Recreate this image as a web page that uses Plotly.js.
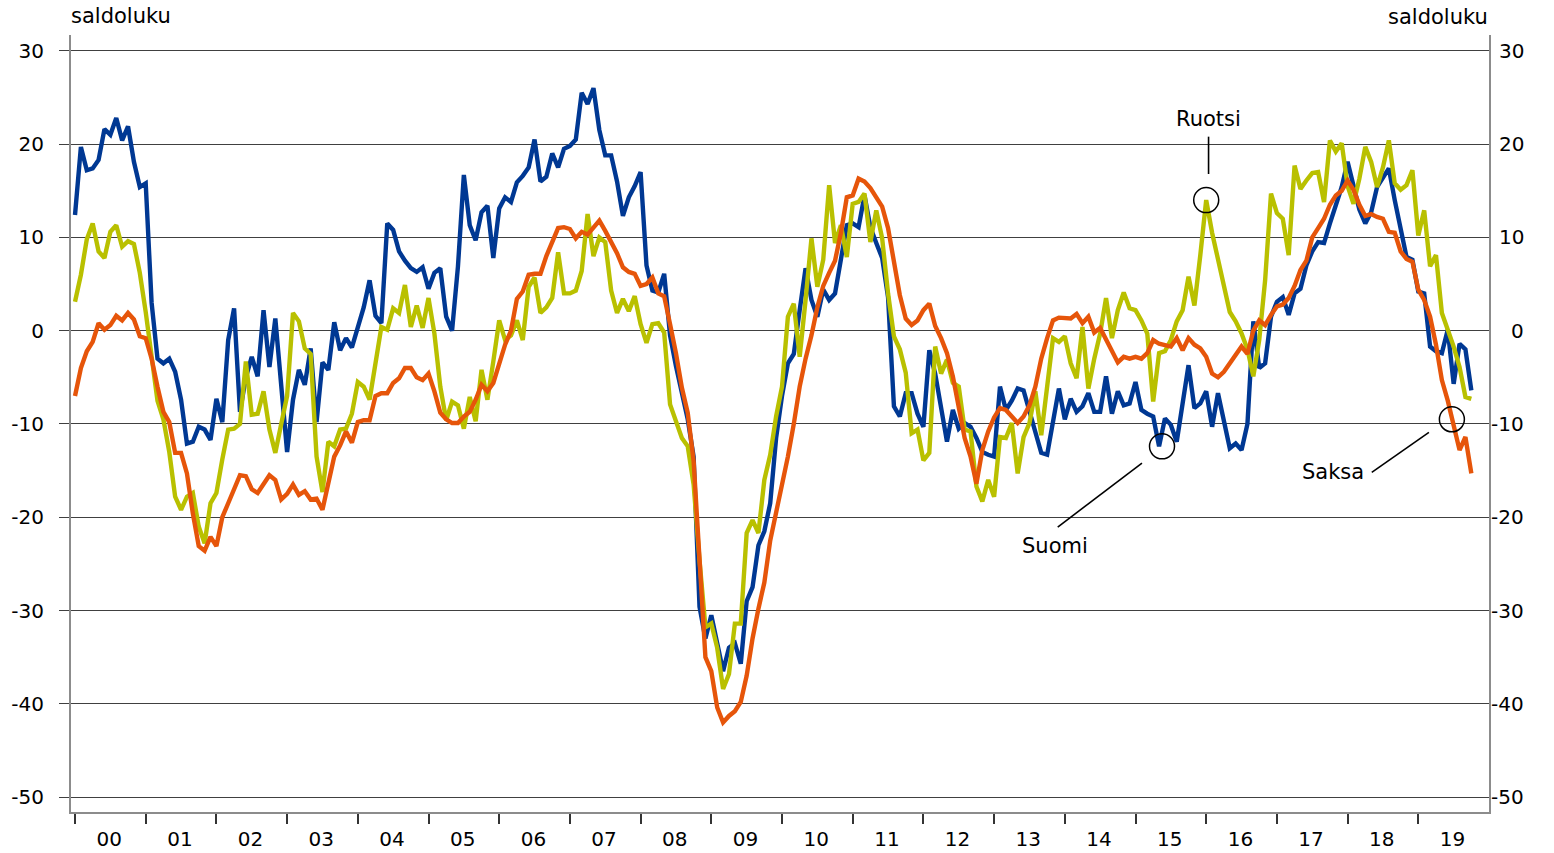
<!DOCTYPE html>
<html>
<head>
<meta charset="utf-8">
<script src="https://cdn.plot.ly/plotly-3.0.1.min.js"></script>
<style>
  html, body { margin: 0; padding: 0; background: #fff; }
  #chart { width: 1554px; height: 853px; }
</style>
</head>
<body>
<div id="chart"></div>
<script>
// Monthly balance figures (saldoluku), Jan 2000 – Oct 2019
const yearLabels = ["00","01","02","03","04","05","06","07","08","09","10","11","12","13","14","15","16","17","18","19"];
const yTicks = [-50, -40, -30, -20, -10, 0, 10, 20, 30];
const yTickText = ["-50", "-40", "-30", "-20", "-10", "0", "10", "20", "30"];
const axisTitle = "saldoluku";
const seriesNames = ["Suomi", "Ruotsi", "Saksa"];

const suomi = [
  12.4, 19.7, 17.2, 17.4, 18.3, 21.6, 21.0, 22.8, 20.4, 21.9, 18.1, 15.4,
  15.8, 3.0, -3.0, -3.5, -3.0, -4.4, -7.4, -12.1, -11.9, -10.3, -10.6, -11.7,
  -7.3, -9.8, -1.0, 2.4, -8.7, -5.0, -2.8, -4.9, 2.2, -3.9, 1.3, -6.0,
  -13.0, -7.4, -4.2, -5.8, -1.9, -9.8, -3.4, -4.2, 0.9, -2.1, -0.8, -1.8,
  0.3, 2.5, 5.4, 1.6, 0.8, 11.5, 10.8, 8.5, 7.5, 6.7, 6.3, 6.8,
  4.5, 6.2, 6.7, 1.5, 0.0, 6.9, 16.7, 11.3, 9.7, 12.7, 13.4, 7.8,
  13.1, 14.3, 13.8, 15.9, 16.6, 17.5, 20.5, 16.0, 16.5, 19.0, 17.5, 19.5,
  19.8, 20.5, 25.5, 24.3, 26.0, 21.5, 18.8, 18.8, 16.0, 12.3, 14.3, 15.5,
  17.0, 7.0, 4.3, 4.1, 6.1, -0.5, -3.8, -6.5, -9.5, -13.5, -29.6, -33.0,
  -30.5, -33.5, -36.5, -34.0, -33.5, -35.7, -29.0, -27.5, -23.0, -21.5, -18.5, -11.5,
  -7.0, -3.5, -2.5, 2.2, 6.7, 3.3, 1.5, 4.4, 3.3, 4.0, 7.9, 11.3,
  11.5, 11.1, 14.5, 11.1, 9.4, 7.8, 3.6, -8.1, -9.2, -6.7, -6.7, -8.9,
  -10.3, -2.1, -4.6, -8.0, -11.9, -8.5, -10.5, -9.9, -10.3, -11.5, -13.0, -13.3,
  -13.5, -6.0, -8.5, -7.5, -6.2, -6.4, -8.5, -11.0, -13.1, -13.3, -9.5, -6.2,
  -9.5, -7.3, -8.7, -8.1, -6.7, -8.7, -8.7, -4.9, -8.9, -6.5, -8.0, -7.8,
  -5.5, -8.5, -8.9, -9.2, -12.4, -9.4, -10.1, -11.9, -7.8, -3.7, -8.3, -7.8,
  -6.5, -10.3, -6.7, -9.4, -12.6, -12.1, -12.8, -10.0, 1.0, -4.0, -3.5, 1.5,
  3.1, 3.6, 1.7, 4.0, 4.5, 7.0, 8.5, 9.5, 9.4, 11.5, 13.3, 15.4,
  18.1, 15.5, 13.0, 11.5, 12.7, 15.4, 16.5, 17.4, 14.0, 10.8, 7.9, 7.6,
  4.2, 4.0, -1.7, -2.2, -2.4, 0.1, -5.7, -1.4, -2.0, -6.4
];

const ruotsi = [
  3.1, 6.0, 9.8, 11.5, 8.5, 7.8, 10.6, 11.3, 9.0, 9.6, 9.3, 6.2,
  2.0, -2.5, -7.5, -9.5, -13.0, -17.8, -19.2, -17.8, -17.4, -21.0, -22.8, -18.5,
  -17.4, -13.8, -10.6, -10.5, -10.0, -3.3, -9.0, -8.9, -6.5, -10.6, -13.1, -10.0,
  -7.0, 1.9, 1.0, -1.9, -2.5, -13.5, -17.3, -11.9, -12.4, -10.6, -10.5, -8.9,
  -5.5, -6.0, -7.4, -3.5, 0.4, 0.1, 2.4, 1.9, 4.9, 0.4, 2.7, 0.3,
  3.5, -0.3, -6.0, -9.6, -7.6, -8.0, -10.5, -7.1, -9.7, -4.2, -7.4, -3.3,
  1.1, -1.0, -0.5, 1.1, -1.0, 4.7, 5.7, 1.9, 2.5, 3.5, 8.4, 4.0,
  4.0, 4.3, 6.4, 12.5, 8.0, 10.0, 9.5, 4.3, 1.9, 3.4, 2.1, 3.7,
  0.7, -1.3, 0.7, 0.8, -0.2, -7.9, -9.7, -11.5, -12.4, -16.5, -24.6, -31.8,
  -31.4, -34.0, -38.4, -36.8, -31.4, -31.4, -21.7, -20.3, -21.7, -16.0, -13.3, -9.2,
  -6.0, 1.5, 2.9, -2.8, 3.3, 9.9, 4.7, 7.6, 15.6, 9.4, 11.3, 7.9,
  13.6, 13.8, 14.7, 9.5, 12.9, 9.9, 4.0, -0.6, -2.0, -4.5, -11.0, -10.6,
  -13.9, -13.1, -1.7, -4.6, -3.1, -5.6, -6.0, -10.6, -10.8, -16.7, -18.3, -16.0,
  -17.8, -11.4, -11.5, -9.9, -15.3, -11.4, -9.9, -6.5, -11.2, -5.6, -0.8, -1.2,
  -0.6, -3.5, -5.1, 0.4, -6.2, -3.0, -0.3, 3.5, -0.8, 2.2, 4.1, 2.4,
  2.2, 1.1, -0.3, -7.6, -2.4, -2.2, -1.0, 1.0, 2.2, 5.8, 2.7, 8.1,
  14.0, 10.5, 7.5, 4.5, 2.0, 1.0, -0.3, -2.0, -4.9, -1.0, 5.4, 14.7,
  12.6, 12.0, 8.1, 17.7, 15.2, 16.1, 16.9, 17.0, 13.8, 20.4, 19.2, 20.1,
  15.5, 13.6, 16.3, 19.7, 18.1, 15.4, 17.5, 20.4, 15.8, 15.1, 15.6, 17.2,
  10.2, 12.9, 6.9, 8.1, 1.9, 0.1, -1.7, -3.9, -7.1, -7.3
];

const saksa = [
  -7.0, -4.0, -2.2, -1.2, 0.8, 0.1, 0.6, 1.6, 1.1, 1.9, 1.2, -0.6,
  -0.8, -3.0, -6.0, -8.7, -9.8, -13.1, -13.1, -15.3, -19.6, -23.1, -23.6, -22.1,
  -23.1, -20.0, -18.5, -17.0, -15.5, -15.6, -17.0, -17.4, -16.5, -15.5, -16.0, -18.1,
  -17.5, -16.5, -17.6, -17.2, -18.1, -18.0, -19.2, -16.4, -13.5, -12.3, -10.8, -12.0,
  -9.8, -9.6, -9.6, -7.0, -6.7, -6.7, -5.6, -5.1, -4.0, -4.0, -5.0, -5.3,
  -4.6, -6.5, -8.8, -9.5, -9.9, -9.9, -9.2, -8.7, -7.4, -5.8, -6.5, -5.6,
  -3.5, -1.5, 0.0, 3.4, 4.2, 6.0, 6.1, 6.1, 8.0, 9.5, 11.0, 11.1,
  10.9, 9.9, 10.6, 10.3, 11.0, 11.8, 10.7, 9.5, 8.3, 6.8, 6.3, 6.1,
  4.8, 5.0, 5.7, 4.0, 3.7, 0.7, -2.4, -6.1, -8.8, -14.0, -25.0, -35.0,
  -36.5, -40.4, -42.0, -41.3, -40.8, -39.8, -37.0, -33.0, -29.8, -27.0, -22.5, -19.5,
  -17.0, -13.5, -10.0, -6.0, -3.0, -0.5, 2.5, 4.8, 6.2, 7.5, 10.5, 14.3,
  14.5, 16.3, 16.0, 15.3, 14.3, 13.3, 11.0, 7.5, 3.8, 1.3, 0.6, 1.1,
  2.2, 2.9, 0.5, -0.8, -2.4, -4.9, -8.5, -11.5, -13.5, -16.4, -12.8, -10.8,
  -9.3, -8.3, -8.5, -9.2, -9.9, -9.2, -8.0, -6.0, -3.0, -0.8, 1.1, 1.4,
  1.3, 1.3, 1.8, 0.8, 1.5, -0.2, 0.3, -0.9, -2.2, -3.4, -2.8, -3.0,
  -2.8, -3.0, -2.4, -1.0, -1.4, -1.5, -1.7, -0.8, -2.1, -0.8, -1.5, -1.9,
  -2.8, -4.6, -5.0, -4.4, -3.5, -2.6, -1.7, -2.5, 0.0, 1.1, 0.6, 1.7,
  2.6, 2.8, 3.5, 4.8, 6.5, 7.5, 10.0, 11.0, 12.0, 13.5, 14.5, 15.0,
  16.1, 15.1, 13.5, 12.3, 12.5, 12.2, 12.0, 10.6, 10.5, 8.5, 7.7, 7.4,
  4.4, 3.3, 1.5, -1.5, -5.3, -7.5, -10.0, -12.8, -11.4, -15.3
];

// month index: 0 = January 2000
const months = suomi.map((_, i) => i);
const yearStarts = yearLabels.map((_, i) => i * 12);
const labelPos = yearLabels.map((_, i) => i * 12 + 5.8);

const colors = { suomi: "#003893", ruotsi: "#B9C000", saksa: "#E6550A" };
const lineW = 4.4;

const traces = [
  { x: months, y: suomi, name: seriesNames[0], type: "scatter", mode: "lines",
    line: { color: colors.suomi, width: lineW } },
  { x: months, y: ruotsi, name: seriesNames[1], type: "scatter", mode: "lines",
    line: { color: colors.ruotsi, width: lineW } },
  { x: months, y: saksa, name: seriesNames[2], type: "scatter", mode: "lines",
    line: { color: colors.saksa, width: lineW } }
];

const txtFont = { family: "DejaVu Sans, sans-serif", size: 21, color: "#000" };
const tickFont = { family: "DejaVu Sans, sans-serif", size: 20, color: "#000" };

const annotations = [];
// right-hand tick labels (right aligned)
yTicks.forEach((v, i) => annotations.push({
  xref: "paper", x: 1, xanchor: "right", xshift: 37,
  yref: "y", y: v, yanchor: "middle",
  text: yTickText[i], showarrow: false, font: tickFont
}));
// axis unit titles
annotations.push({ xref: "paper", x: 0, xanchor: "left", xshift: -2,
  yref: "paper", y: 1, yanchor: "middle", yshift: 19,
  text: axisTitle, showarrow: false, font: txtFont });
annotations.push({ xref: "paper", x: 1, xanchor: "right", xshift: 1,
  yref: "paper", y: 1, yanchor: "middle", yshift: 18,
  text: axisTitle, showarrow: false, font: txtFont });
// series labels
annotations.push({ xref: "x", x: 192.4, yref: "y", y: 22.7, text: seriesNames[1],
  showarrow: false, font: txtFont });
annotations.push({ xref: "x", x: 166.4, yref: "y", y: -23.1, text: seriesNames[0],
  showarrow: false, font: txtFont });
annotations.push({ xref: "x", x: 213.6, yref: "y", y: -15.2, text: seriesNames[2],
  showarrow: false, font: txtFont });

const circ = (xa, ya) => ({
  type: "circle", xref: "x", yref: "y", xsizemode: "pixel", ysizemode: "pixel",
  xanchor: xa, yanchor: ya, x0: -12.5, x1: 12.5, y0: -12.5, y1: 12.5,
  line: { color: "#000", width: 1.5 }, fillcolor: "rgba(0,0,0,0)"
});
const seg = (x0, y0, x1, y1) => ({
  type: "line", xref: "x", yref: "y", x0, y0, x1, y1,
  line: { color: "#000", width: 1.6 }
});

const shapes = [
  circ(192, ruotsi[192]),
  circ(184.5, suomi[184]),
  circ(233.7, -9.5),
  seg(192.4, 20.8, 192.4, 16.8),
  seg(166.8, -21.05, 181.1, -14.2),
  seg(220.1, -15.2, 229.8, -10.9)
];

const layout = {
  width: 1554, height: 853,
  margin: { l: 71, r: 65, t: 35, b: 41, pad: 0 },
  paper_bgcolor: "#fff", plot_bgcolor: "#fff",
  showlegend: false,
  font: tickFont,
  xaxis: {
    range: [-0.68, 240],
    tickmode: "array", tickvals: labelPos, ticktext: yearLabels,
    ticks: "", showgrid: false, zeroline: false,
    showline: true, linecolor: "#8c8c8c", linewidth: 2,
    ticklabelstandoff: 8,
    tickfont: tickFont,
    minor: { tickmode: "array", tickvals: yearStarts, ticks: "outside",
      ticklen: 10, tickwidth: 2, tickcolor: "#333", showgrid: false }
  },
  yaxis: {
    range: [-51.6, 31.7],
    tickmode: "array", tickvals: yTicks, ticktext: yTickText,
    ticks: "outside", ticklen: 10, tickwidth: 1, tickcolor: "#404040",
    showgrid: true, gridcolor: "#404040", gridwidth: 1,
    zeroline: false,
    showline: true, linecolor: "#8c8c8c", linewidth: 2, mirror: true,
    ticklabelstandoff: 11,
    tickfont: tickFont
  },
  annotations,
  shapes
};

Plotly.newPlot("chart", traces, layout, { staticPlot: true, displayModeBar: false });
</script>
</body>
</html>
